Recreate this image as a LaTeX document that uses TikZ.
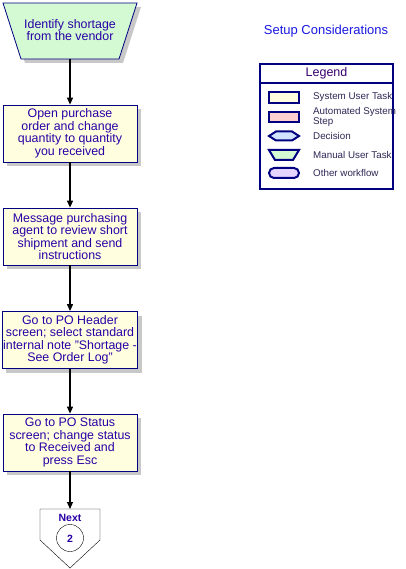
\documentclass[tikz,border=0pt]{standalone}
\usepackage{fontspec}
\setmainfont{Liberation Sans}
\usetikzlibrary{arrows.meta,shadows}

\definecolor{taskfill}{RGB}{255, 255, 224}
\definecolor{manualfill}{RGB}{212, 250, 212}
\definecolor{autofill}{RGB}{255, 208, 208}
\definecolor{decisionfill}{RGB}{208, 228, 255}
\definecolor{workflowfill}{RGB}{228, 212, 255}
\definecolor{navyline}{RGB}{0, 0, 128}
\definecolor{tasktext}{RGB}{40, 0, 165}
\definecolor{titletext}{RGB}{25, 25, 225}
\definecolor{legendtext}{RGB}{45, 40, 85}
\definecolor{shadowgray}{RGB}{200, 200, 200}

\tikzset{
  taskbox/.style={draw=navyline, fill=taskfill, thick, minimum width=134pt, minimum height=57pt,
    inner sep=1pt, align=center, text=tasktext, font=\fontsize{12.4}{12.5}\selectfont,
    drop shadow={shadow xshift=4pt, shadow yshift=-4pt, fill=shadowgray, opacity=1}},
  flowarrow/.style={-{Triangle[length=7pt, width=6pt]}, line width=1.2pt, black},
  legendicon/.style={draw=navyline, line width=2pt},
  legendlabel/.style={anchor=west, inner sep=0pt, align=left, text=legendtext,
    font=\fontsize{9.8}{10}\selectfont}
}

\begin{document}
\begin{tikzpicture}[x=1pt, y=-1pt]
		\useasboundingbox (0,0) rectangle (406,569);
		
		% Startschritt (manuelle Aufgabe, Trapez mit Schatten)
		\fill[shadowgray] (7,7) -- (141,7) -- (123,63) -- (25,63) -- cycle;
		\draw[draw=navyline, fill=manualfill, thick] (3,3) -- (137,3) -- (119,59) -- (21,59) -- cycle;
		\node[text=tasktext, align=center, font=\fontsize{12.4}{12.5}\selectfont] (identify) at (70,30) {Identify shortage\\from the vendor};
		\coordinate (identifybottom) at (70,59);
		
		% Aufgabenboxen
		\foreach \name/\ypos/\txt in {
			open/133.5/{Open purchase\\order and change\\quantity to quantity\\you received},
			message/236.5/{Message purchasing\\agent to review short\\shipment and send\\instructions},
			header/340/{Go to PO Header\\screen; select standard\\internal note "Shortage -\\See Order Log"},
			status/442.5/{Go to PO Status\\screen; change status\\to Received and\\press Esc}} {
			\node[taskbox] (\name) at (70,\ypos) {\txt};
		}
		
		% Verbindungspfeile
		\draw[flowarrow] (identifybottom) -- (open.north);
		\foreach \from/\to in {open/message, message/header, header/status} {
			\draw[flowarrow] (\from.south) -- (\to.north);
		}
		
		% Seitenverbinder "Next"
		\draw[fill=white, draw=black] (40,509) -- (100,509) -- (100,540) -- (70,568) -- (40,540) -- cycle;
		\coordinate (nexttop) at (70,509);
		\draw[black] (70,538) circle (13.5);
		\node[text=tasktext, font=\fontsize{10.5}{12}\selectfont\bfseries] (nextlabel) at (70,518) {Next};
		\node[text=tasktext, font=\fontsize{10.5}{12}\selectfont\bfseries] (nextnum) at (70,538.5) {2};
		\draw[flowarrow] (status.south) -- (nexttop);
		
		% Titel rechts oben
		\node[text=titletext, font=\fontsize{13}{14}\selectfont] (setup) at (326,31) {Setup Considerations};
		
		% Legende
		\draw[draw=navyline, fill=white, line width=2pt] (260,64) rectangle (393,189);
		\draw[draw=navyline, line width=2pt] (260,83) -- (393,83);
		\node[text=navyline!70!purple, font=\fontsize{12.5}{14}\selectfont] (legendtitle) at (326.5,73.5) {Legend};
		
		% Legenden-Symbole
		\draw[legendicon, fill=taskfill] (269,92) rectangle (299,103);
		\draw[legendicon, fill=autofill] (269,112) rectangle (299,122);
		\draw[legendicon, fill=decisionfill] (269,136) -- (276,131.5) -- (292,131.5) -- (299,136) -- (292,140.5) -- (276,140.5) -- cycle;
		\draw[legendicon, fill=manualfill] (269,150) -- (299,150) -- (293,160) -- (275,160) -- cycle;
		\draw[legendicon, fill=workflowfill, rounded corners=5pt] (269,168) rectangle (299,178);
		
		% Legenden-Beschriftung
		\foreach \i/\ypos/\txt in {1/97/System User Task, 2/117/{Automated System\\Step}, 3/136/Decision, 4/155/Manual User Task, 5/173/Other workflow} {
			\node[legendlabel] (legend\i) at (313,\ypos) {\txt};
		}
		
	\end{tikzpicture}
\end{document}
